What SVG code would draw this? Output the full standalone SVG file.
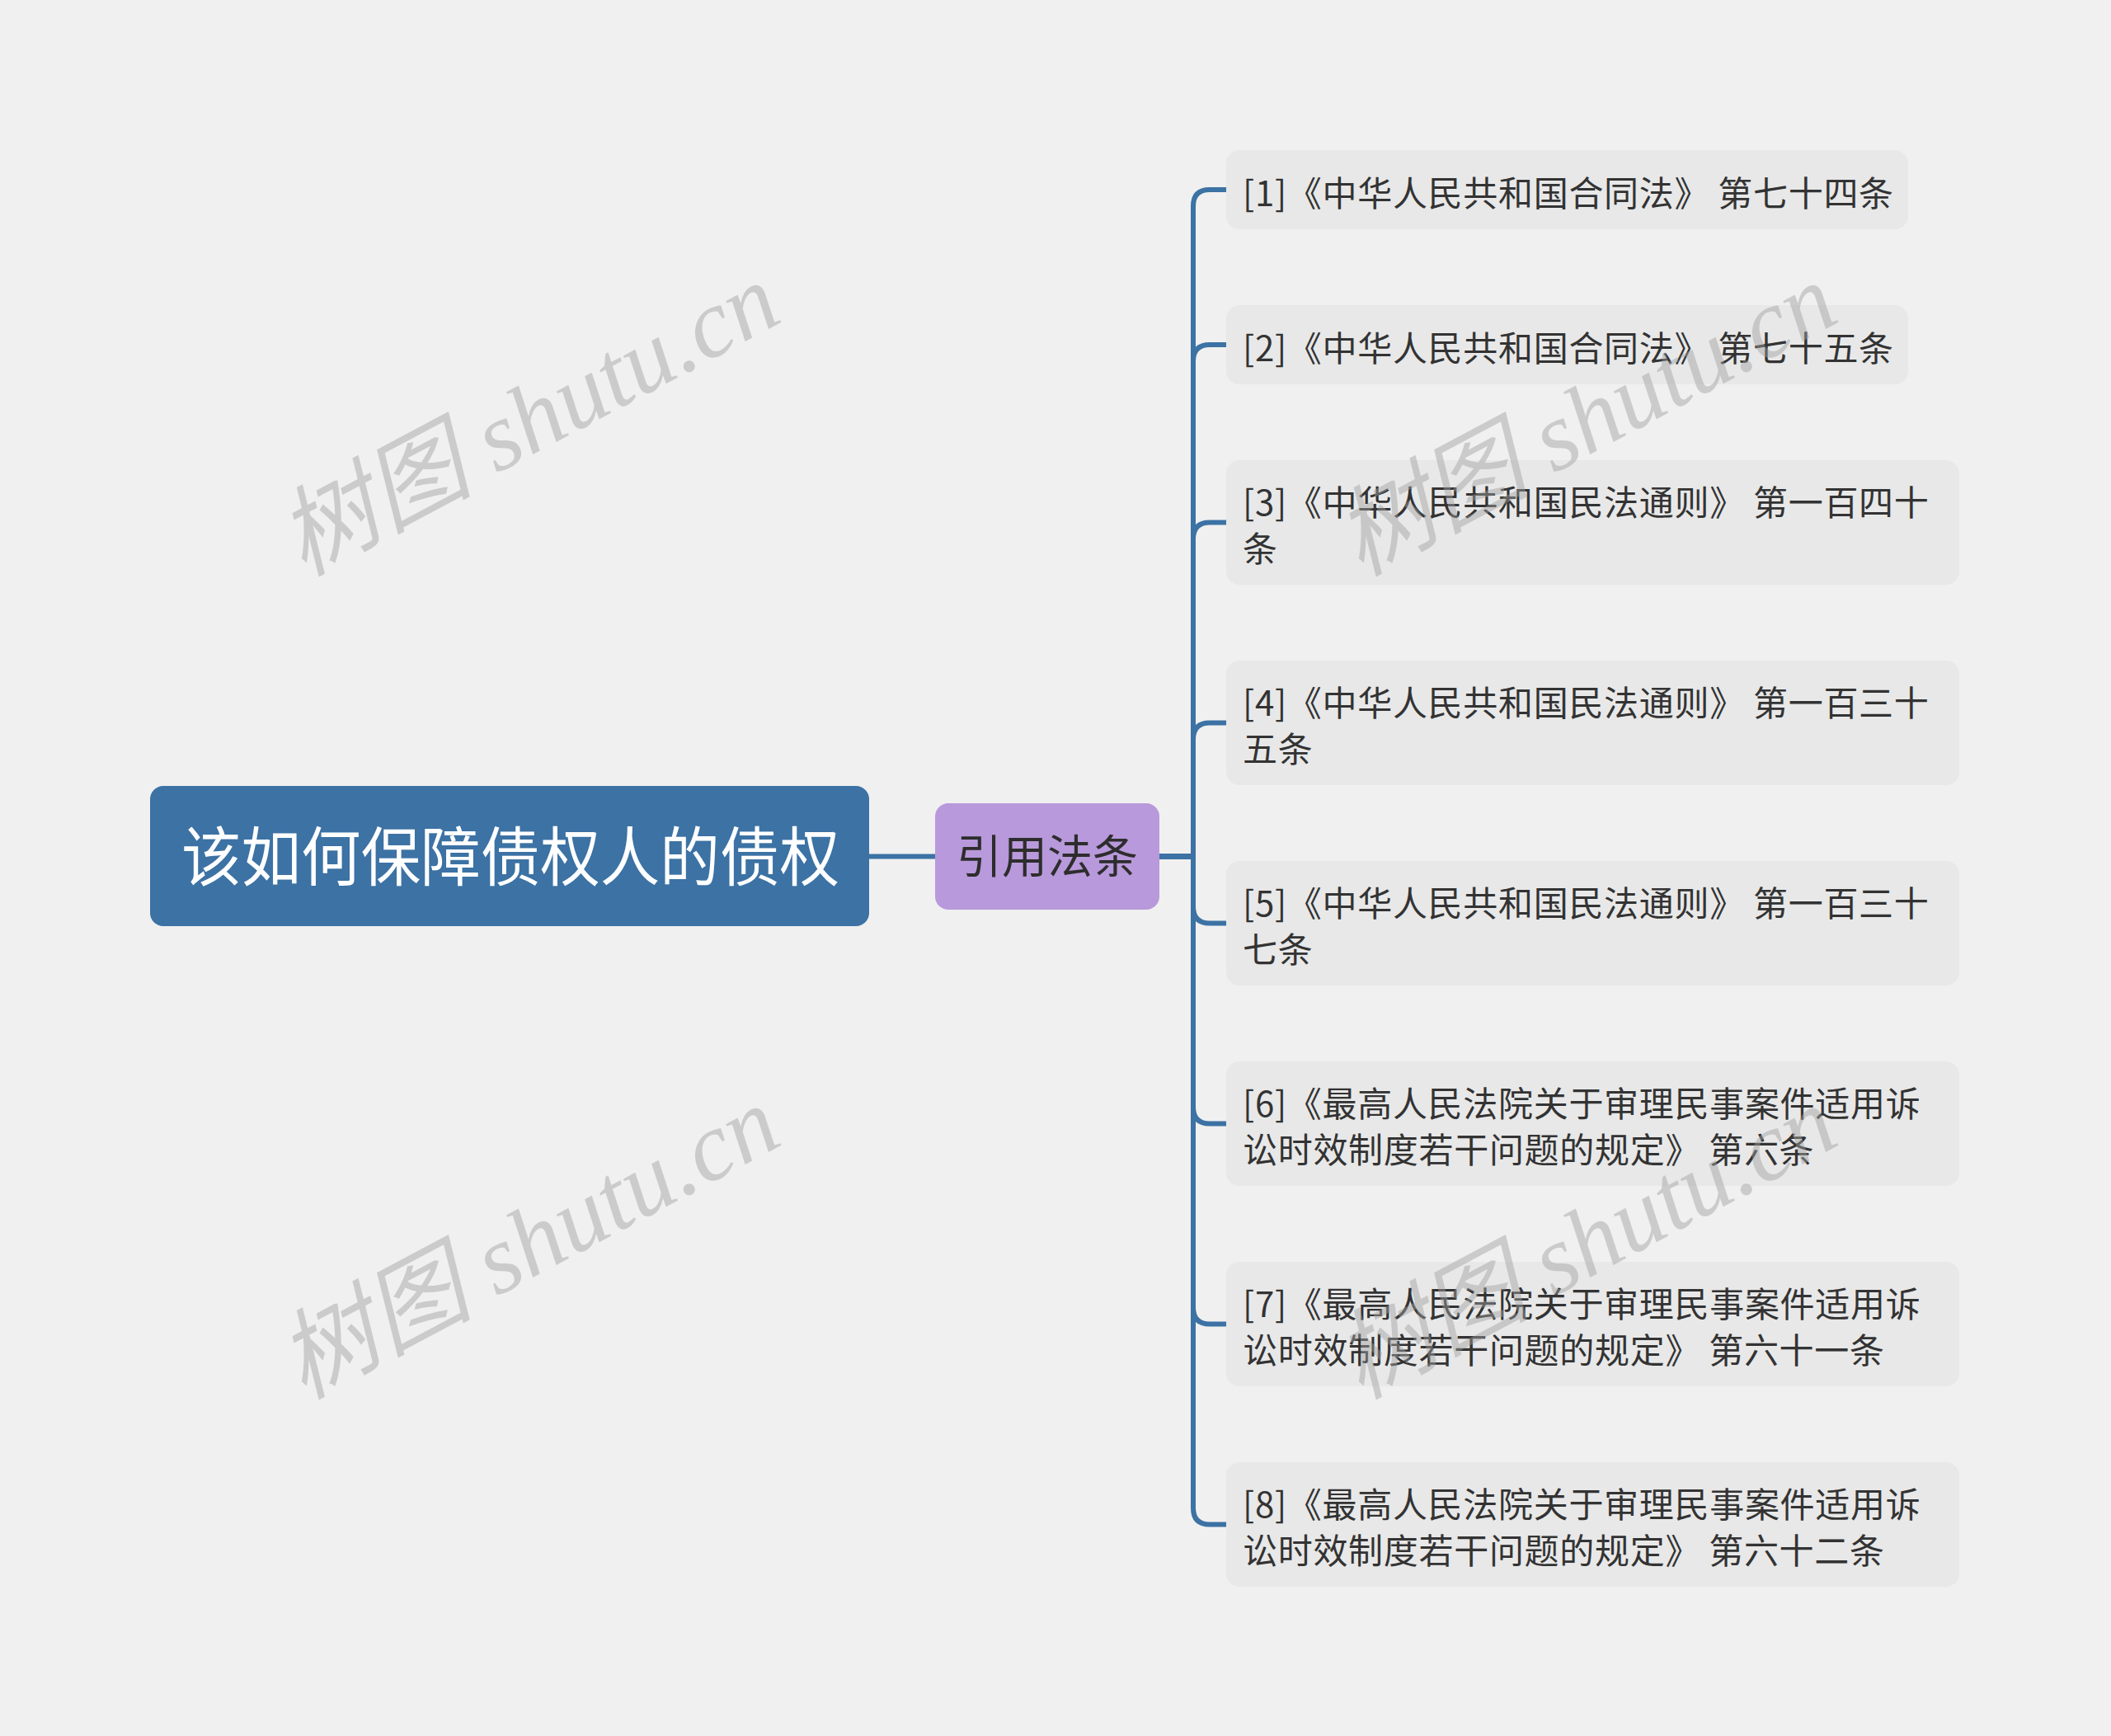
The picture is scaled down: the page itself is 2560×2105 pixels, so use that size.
<svg xmlns="http://www.w3.org/2000/svg" width="2560" height="2105" viewBox="0 0 2560 2105">
<style>
.leaf rect{fill:#e8e8e8}
.leaf text{font-family:"Noto Sans CJK SC","Noto Sans",sans-serif;font-size:42px;letter-spacing:0.7px;fill:#333333}
.conn path{fill:none;stroke:#3c72a4;stroke-width:6}
.wm{font-family:"Liberation Serif","Noto Sans CJK SC",serif;font-style:italic;font-size:118px;fill:#a0a0a0;opacity:0.45;text-anchor:middle}
</style>
<rect x="0" y="0" width="2560" height="2105" fill="#f0f0f0"/>
<g id="connectors" class="conn">
<path d="M1054 1038.5 H1134"/>
<path d="M1406 1038.5 H1447 V250 Q1447 230 1467 230 H1487"/>
<path d="M1406 1038.5 H1447 V438 Q1447 418 1467 418 H1487"/>
<path d="M1406 1038.5 H1447 V653.5 Q1447 633.5 1467 633.5 H1487"/>
<path d="M1406 1038.5 H1447 V896.5 Q1447 876.5 1467 876.5 H1487"/>
<path d="M1406 1038.5 H1447 V1099.5 Q1447 1119.5 1467 1119.5 H1487"/>
<path d="M1406 1038.5 H1447 V1342.5 Q1447 1362.5 1467 1362.5 H1487"/>
<path d="M1406 1038.5 H1447 V1585.5 Q1447 1605.5 1467 1605.5 H1487"/>
<path d="M1406 1038.5 H1447 V1828.5 Q1447 1848.5 1467 1848.5 H1487"/>
</g>
<g id="root">
<rect x="182" y="953" width="872" height="170" rx="16" fill="#3c72a4"/>
<text x="220" y="1068" textLength="798" lengthAdjust="spacingAndGlyphs" font-family="'Noto Sans CJK SC','Noto Sans',sans-serif" font-size="78" fill="#ffffff">该如何保障债权人的债权</text>
</g>
<g id="mid">
<rect x="1134" y="974" width="272" height="129" rx="16" fill="#b899db"/>
<text x="1270" y="1058" text-anchor="middle" font-family="'Noto Sans CJK SC','Noto Sans',sans-serif" font-size="55" fill="#2d2d2d">引用法条</text>
</g>
<g id="leaf1" class="leaf">
<rect x="1487" y="182" width="827" height="96" rx="16"/>
<text x="1507" y="250">[1]《中华人民共和国合同法》 第七十四条</text>
</g>
<g id="leaf2" class="leaf">
<rect x="1487" y="370" width="827" height="96" rx="16"/>
<text x="1507" y="438">[2]《中华人民共和国合同法》 第七十五条</text>
</g>
<g id="leaf3" class="leaf">
<rect x="1487" y="558" width="889" height="151" rx="16"/>
<text x="1507" y="624.5">[3]《中华人民共和国民法通则》 第一百四十</text>
<text x="1507" y="680.5">条</text>
</g>
<g id="leaf4" class="leaf">
<rect x="1487" y="801" width="889" height="151" rx="16"/>
<text x="1507" y="867.5">[4]《中华人民共和国民法通则》 第一百三十</text>
<text x="1507" y="923.5">五条</text>
</g>
<g id="leaf5" class="leaf">
<rect x="1487" y="1044" width="889" height="151" rx="16"/>
<text x="1507" y="1110.5">[5]《中华人民共和国民法通则》 第一百三十</text>
<text x="1507" y="1166.5">七条</text>
</g>
<g id="leaf6" class="leaf">
<rect x="1487" y="1287" width="889" height="151" rx="16"/>
<text x="1507" y="1353.5">[6]《最高人民法院关于审理民事案件适用诉</text>
<text x="1507" y="1409.5">讼时效制度若干问题的规定》 第六条</text>
</g>
<g id="leaf7" class="leaf">
<rect x="1487" y="1530" width="889" height="151" rx="16"/>
<text x="1507" y="1596.5">[7]《最高人民法院关于审理民事案件适用诉</text>
<text x="1507" y="1652.5">讼时效制度若干问题的规定》 第六十一条</text>
</g>
<g id="leaf8" class="leaf">
<rect x="1487" y="1773" width="889" height="151" rx="16"/>
<text x="1507" y="1839.5">[8]《最高人民法院关于审理民事案件适用诉</text>
<text x="1507" y="1895.5">讼时效制度若干问题的规定》 第六十二条</text>
</g>
<g id="watermarks">
<text class="wm" transform="translate(643 512) rotate(-28)" x="0" y="36">树图 shutu.cn</text>
<text class="wm" transform="translate(1925 512) rotate(-28)" x="0" y="36">树图 shutu.cn</text>
<text class="wm" transform="translate(643 1510) rotate(-28)" x="0" y="36">树图 shutu.cn</text>
<text class="wm" transform="translate(1925 1510) rotate(-28)" x="0" y="36">树图 shutu.cn</text>
</g>
</svg>
